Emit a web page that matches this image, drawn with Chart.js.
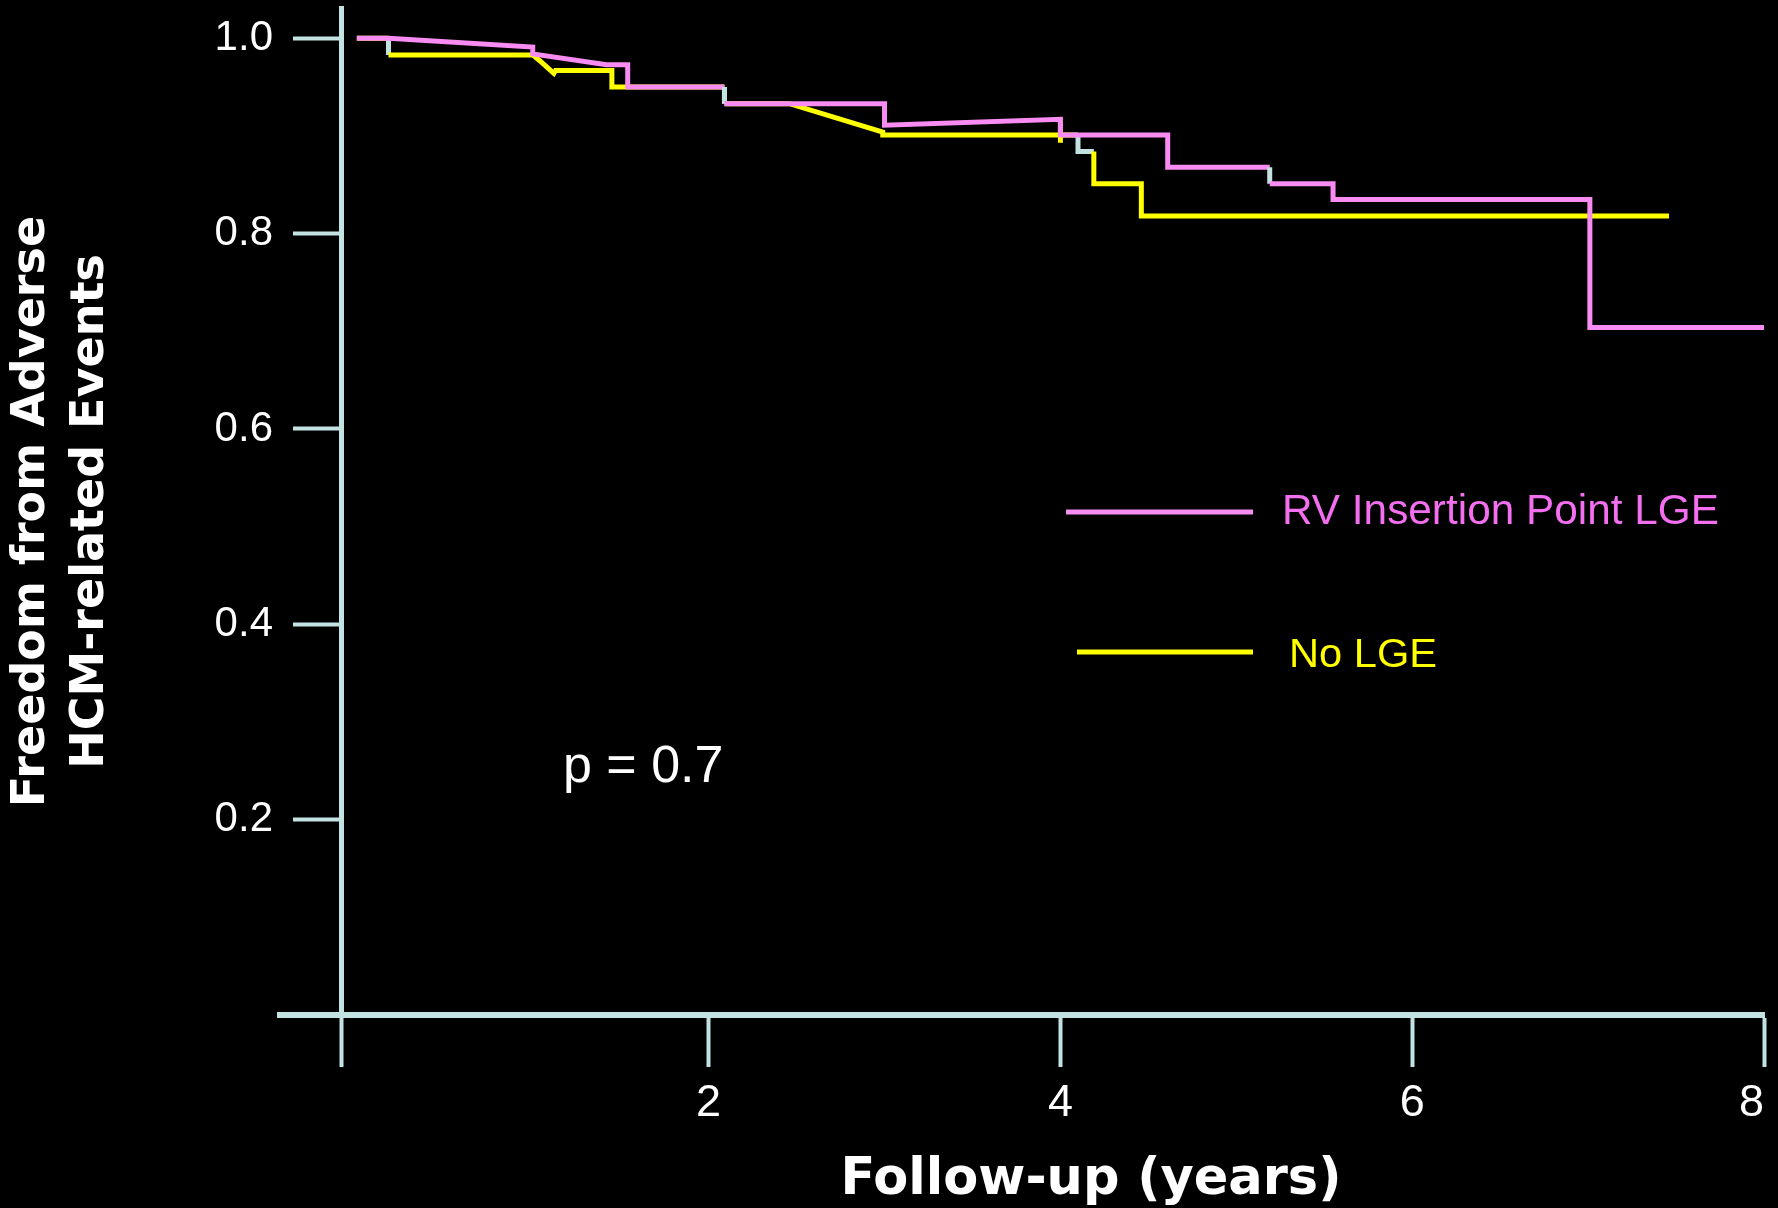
<!DOCTYPE html>
<html lang="en">
<head>
    <meta charset="UTF-8">
    <title>Freedom from Adverse HCM-related Events</title>
    <script src="https://cdn.jsdelivr.net/npm/chart.js@4.4.1/dist/chart.umd.min.js"></script>
    <style>
        body { margin: 0; background: #000; }
        #wrap { width: 1778px; height: 1208px; position: relative; }
    </style>
</head>
<body>
<div id="wrap"><canvas id="km"></canvas></div>

<script type="text/javascript">
    // follow-up (years) and freedom from events
    var rvTime  = [0, 0.18, 1.0, 1.0, 1.42, 1.54, 1.54, 2.09, 2.09, 3.0, 3.0, 4.0, 4.0, 4.61, 4.61, 5.19, 5.19, 5.55, 5.55, 7.01, 7.01, 8.0];
    var rvValue = [1.0, 1.0, 0.991, 0.984, 0.973, 0.973, 0.950, 0.950, 0.933, 0.933, 0.911, 0.917, 0.901, 0.901, 0.868, 0.868, 0.851, 0.851, 0.835, 0.835, 0.704, 0.704];

    var noTime  = [0, 0.18, 0.18, 1.0, 1.04, 1.12, 1.13, 1.45, 1.45, 2.09, 2.09, 2.46, 2.99, 2.99, 4.0, 4.0, 4.0, 4.0, 4.1, 4.1, 4.19, 4.19, 4.46, 4.46, 7.46];
    var noValue = [1.0, 1.0, 0.983, 0.983, 0.977, 0.964, 0.967, 0.967, 0.950, 0.950, 0.933, 0.933, 0.904, 0.901, 0.901, 0.917, 0.893, 0.901, 0.901, 0.884, 0.884, 0.851, 0.851, 0.818, 0.818];

    var seriesNames = ["RV Insertion Point LGE", "No LGE"];
    var xTicks = [2, 4, 6, 8];
    var yTicks = [0.2, 0.4, 0.6, 0.8, 1.0];
    var xTitle = "Follow-up (years)";
    var yTitle = ["Freedom from Adverse", "HCM-related Events"];
    var pText = "p = 0.7";

    // drops that the original drew in the axis colour (from x, to x)
    var rvGray = [[2.09, 2.09], [5.19, 5.19]];
    var noGray = [[0.18, 0.18], [2.09, 2.09], [4.1, 4.1], [4.1, 4.19]];

    var AXIS = "#c3e2e2";
    var PINK = "#f88cf2";
    var PINK_TXT = "#f46ef0";
    var YELLOW = "#ffff00";

    function toPoints(t, v) {
        var out = [];
        for (var i = 0; i < t.length; i++) out.push({x: t[i], y: v[i]});
        return out;
    }

    function segColor(gray, base) {
        return function (c) {
            var a = c.p0.parsed.x, b = c.p1.parsed.x;
            for (var i = 0; i < gray.length; i++) {
                if (gray[i][0] === a && gray[i][1] === b) return AXIS;
            }
            return base;
        };
    }

    // squeeze text to the width it has in the picture
    function fitText(ctx, txt, x, base, w, font, color) {
        ctx.save();
        ctx.font = font;
        ctx.fillStyle = color;
        ctx.textBaseline = "alphabetic";
        ctx.textAlign = "left";
        var m = ctx.measureText(txt).width;
        ctx.translate(x, base);
        ctx.scale(w / m, 1);
        ctx.fillText(txt, 0, 0);
        ctx.restore();
    }

    var extras = {
        id: "extras",
        beforeDraw: function (chart) {
            var ctx = chart.ctx;
            ctx.save();
            ctx.fillStyle = "#000";
            ctx.fillRect(0, 0, chart.width, chart.height);
            ctx.restore();
        },
        afterDraw: function (chart) {
            var ctx = chart.ctx;
            var a = chart.chartArea;
            ctx.save();
            // x axis runs a bit past the y axis on the left
            ctx.strokeStyle = AXIS;
            ctx.lineWidth = 6;
            ctx.beginPath();
            ctx.moveTo(277, a.bottom);
            ctx.lineTo(a.left, a.bottom);
            ctx.stroke();

            // legend
            ctx.lineWidth = 5;
            ctx.strokeStyle = PINK;
            ctx.beginPath();
            ctx.moveTo(1066, 512);
            ctx.lineTo(1253, 512);
            ctx.stroke();
            ctx.strokeStyle = YELLOW;
            ctx.beginPath();
            ctx.moveTo(1077, 652);
            ctx.lineTo(1253, 652);
            ctx.stroke();
            ctx.restore();

            fitText(ctx, seriesNames[0], 1282, 524, 437, "43px 'Liberation Sans', Arial, sans-serif", PINK_TXT);
            fitText(ctx, seriesNames[1], 1289, 667, 148, "41px 'Liberation Sans', Arial, sans-serif", YELLOW);

            ctx.save();
            ctx.fillStyle = "#fff";
            ctx.font = "52px 'Liberation Sans', Arial, sans-serif";
            ctx.textBaseline = "alphabetic";
            ctx.fillText(pText, 563, 782);

            ctx.font = "bold 51px 'DejaVu Sans', sans-serif";
            ctx.textAlign = "center";
            ctx.fillText(xTitle, 1091, 1194);
            ctx.restore();
        }
    };

    Chart.defaults.font.family = "'Liberation Sans', Arial, sans-serif";

    new Chart(document.getElementById("km"), {
        type: "line",
        data: {
            datasets: [{
                label: seriesNames[0],
                data: toPoints(rvTime, rvValue),
                borderColor: PINK,
                borderWidth: 5,
                pointRadius: 0,
                tension: 0,
                fill: false,
                segment: {borderColor: segColor(rvGray, PINK)}
            }, {
                label: seriesNames[1],
                data: toPoints(noTime, noValue),
                borderColor: YELLOW,
                borderWidth: 5,
                pointRadius: 0,
                tension: 0,
                fill: false,
                segment: {borderColor: segColor(noGray, YELLOW)}
            }]
        },
        options: {
            responsive: true,
            maintainAspectRatio: false,
            animation: false,
            layout: {padding: {top: 8, right: 14, bottom: 0, left: 0}},
            plugins: {legend: {display: false}, tooltip: {enabled: false}},
            scales: {
                x: {
                    type: "linear",
                    min: -0.09,
                    max: 8,
                    afterBuildTicks: function (s) {
                        s.ticks = [{value: s.min}].concat(xTicks.map(function (v) { return {value: v}; }));
                    },
                    afterFit: function (s) {
                        s.height = 193;
                        s.paddingLeft = 0;
                        s.paddingRight = 0;
                    },
                    ticks: {
                        autoSkip: false,
                        maxRotation: 0,
                        align: "inner",
                        color: "#fff",
                        font: {size: 45},
                        padding: 10,
                        callback: function (v) { return xTicks.indexOf(v) < 0 ? "" : String(v); }
                    },
                    grid: {drawOnChartArea: false, drawTicks: true, tickLength: 52, tickWidth: 4, tickColor: AXIS, color: AXIS},
                    border: {display: true, color: AXIS, width: 6}
                },
                y: {
                    type: "linear",
                    min: 0,
                    max: 1.031,
                    afterBuildTicks: function (s) {
                        s.ticks = yTicks.map(function (v) { return {value: v}; });
                    },
                    afterFit: function (s) {
                        s.width = 341;
                        s.paddingTop = 0;
                        s.paddingBottom = 0;
                    },
                    ticks: {
                        color: "#fff",
                        font: {size: 42},
                        padding: 20,
                        callback: function (v) { return v.toFixed(1); }
                    },
                    grid: {drawOnChartArea: false, drawTicks: true, tickLength: 48, tickWidth: 4, tickColor: AXIS, color: AXIS},
                    border: {display: true, color: AXIS, width: 5},
                    title: {
                        display: true,
                        text: yTitle,
                        color: "#fff",
                        font: {family: "'DejaVu Sans', sans-serif", weight: "bold", size: 46, lineHeight: 1.28},
                        padding: {top: 3, bottom: 0}
                    }
                }
            }
        },
        plugins: [extras]
    });
</script>
</body>
</html>
